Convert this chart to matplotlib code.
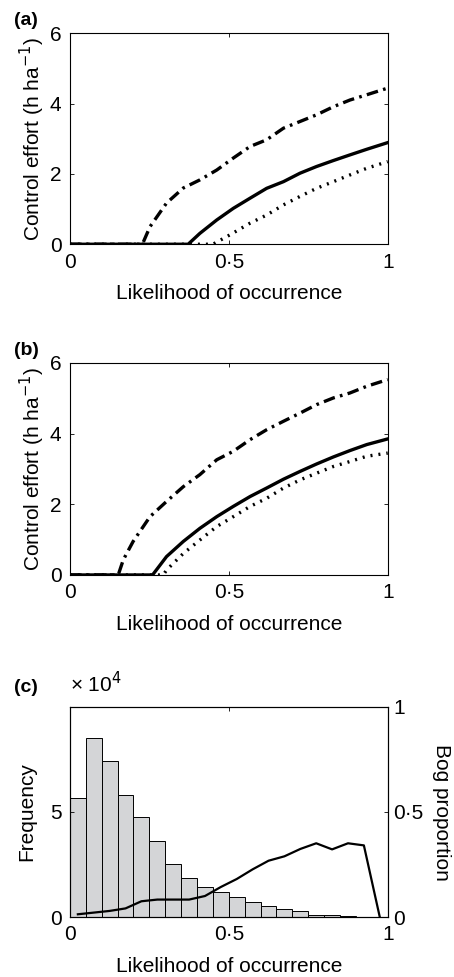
import numpy as np
import matplotlib.pyplot as plt

plt.rcParams['font.family'] = ['Liberation Sans', 'DejaVu Sans']

# panel (a) curves: likelihood vs control effort (h/ha)
a_dashdot_x = [0, 0.228, 0.252, 0.304, 0.357, 0.409, 0.462, 0.514, 0.567, 0.619, 0.672, 0.724, 0.776, 0.829, 0.881, 0.934, 1.0]
a_dashdot_y = [0, 0, 0.5, 1.17, 1.6, 1.83, 2.11, 2.45, 2.78, 2.97, 3.3, 3.49, 3.68, 3.91, 4.1, 4.25, 4.44]
a_solid_x = [0, 0.372, 0.409, 0.462, 0.514, 0.567, 0.619, 0.672, 0.724, 0.776, 0.829, 0.881, 0.934, 1.0]
a_solid_y = [0, 0, 0.31, 0.69, 1.02, 1.31, 1.59, 1.78, 2.02, 2.21, 2.38, 2.54, 2.70, 2.89]
a_dotted_x = [0, 0.45, 0.504, 0.567, 0.619, 0.672, 0.724, 0.776, 0.829, 0.881, 0.934, 1.0]
a_dotted_y = [0, 0, 0.27, 0.6, 0.83, 1.12, 1.36, 1.59, 1.78, 1.97, 2.16, 2.35]

# panel (b) curves
b_dashdot_x = [0, 0.152, 0.168, 0.199, 0.252, 0.304, 0.357, 0.409, 0.462, 0.514, 0.567, 0.619, 0.672, 0.724, 0.776, 0.829, 0.881, 0.934, 1.0]
b_dashdot_y = [0, 0, 0.43, 0.95, 1.65, 2.08, 2.5, 2.84, 3.26, 3.5, 3.83, 4.11, 4.35, 4.58, 4.82, 5.01, 5.15, 5.34, 5.53]
b_solid_x = [0, 0.26, 0.304, 0.357, 0.409, 0.462, 0.514, 0.567, 0.619, 0.672, 0.724, 0.776, 0.829, 0.881, 0.934, 1.0]
b_solid_y = [0, 0, 0.52, 0.95, 1.32, 1.65, 1.94, 2.22, 2.46, 2.71, 2.93, 3.14, 3.34, 3.52, 3.69, 3.85]
b_dotted_x = [0, 0.294, 0.304, 0.357, 0.409, 0.462, 0.514, 0.567, 0.619, 0.672, 0.724, 0.776, 0.829, 0.881, 0.934, 1.0]
b_dotted_y = [0, 0, 0.14, 0.61, 0.99, 1.37, 1.65, 1.94, 2.17, 2.46, 2.69, 2.88, 3.07, 3.21, 3.36, 3.45]

# panel (c): histogram of likelihood (20 bins) and bog proportion per bin
bin_edges = np.linspace(0, 1, 21)
freq = [56700, 85100, 74300, 58300, 47600, 36100, 25200, 18800, 14400, 11800,
        9300, 7200, 5400, 4000, 2900, 1000, 1000, 300, 200, 100]
bog_prop = [0.013, 0.021, 0.029, 0.041, 0.075, 0.083, 0.083, 0.083, 0.10, 0.143,
            0.181, 0.227, 0.268, 0.289, 0.324, 0.351, 0.322, 0.351, 0.341, 0.0]

fig = plt.figure(figsize=(4.54, 9.77), dpi=100)
fs = 15

def style(ax):
    ax.tick_params(direction='in', top=True, right=True, labelsize=fs,
                   length=3, width=0.6, pad=6)
    for s in ax.spines.values():
        s.set_linewidth(0.8)
    ax.set_xlim(0, 1)
    ax.set_xticks([0, 0.5, 1])
    ax.set_xticklabels(['0', '0·5', '1'])
    ax.set_xlabel('Likelihood of occurrence', fontsize=fs, labelpad=9)

lw = 2.4
for pos, lab, dd, so, do in [
        ([0.154, 0.750, 0.700, 0.216], '(a)',
         (a_dashdot_x, a_dashdot_y), (a_solid_x, a_solid_y), (a_dotted_x, a_dotted_y)),
        ([0.154, 0.4115, 0.700, 0.217], '(b)',
         (b_dashdot_x, b_dashdot_y), (b_solid_x, b_solid_y), (b_dotted_x, b_dotted_y))]:
    ax = fig.add_axes(pos)
    ax.plot(*do, color='black', lw=lw, linestyle=(0, (0.6, 1.8)))
    ax.plot(*dd, color='black', lw=lw, linestyle=(0, (3.5, 1.6, 0.8, 1.6)))
    ax.plot(*so, color='black', lw=lw)
    style(ax)
    ax.set_ylim(0, 6)
    ax.set_yticks([0, 2, 4, 6])
    ax.set_ylabel('Control effort (h ha$^{-1}$)', fontsize=fs, labelpad=2)
    fig.text(0.03, pos[1] + pos[3] + 0.008, lab, fontsize=14, fontweight='bold')

# panel (c)
ax = fig.add_axes([0.154, 0.0614, 0.700, 0.215])
ax.bar(bin_edges[:-1], np.array(freq) / 1e4, width=0.05, align='edge',
       color='#d4d5d7', edgecolor='black', linewidth=0.7)
style(ax)
ax.tick_params(right=False)
ax.set_ylim(0, 10)
ax.set_yticks([0, 5])
ax.set_ylabel('Frequency', fontsize=fs, labelpad=10)
ax.text(0.0, 1.07, '× 10$^4$', transform=ax.transAxes, fontsize=fs)
fig.text(0.03, 0.276 + 0.016, '(c)', fontsize=14, fontweight='bold')

ax2 = ax.twinx()
centers = 0.5 * (bin_edges[:-1] + bin_edges[1:])
ax2.plot(centers, bog_prop, color='black', lw=1.6)
ax2.set_ylim(0, 1)
ax2.set_yticks([0, 0.5, 1])
ax2.set_yticklabels(['0', '0·5', '1'])
ax2.tick_params(direction='in', labelsize=fs, length=3, width=0.6, pad=4)
ax2.set_ylabel('Bog proportion', fontsize=fs, rotation=-90, labelpad=20)
ax2.set_xlim(0, 1)

fig.savefig('out.png', dpi=100)
